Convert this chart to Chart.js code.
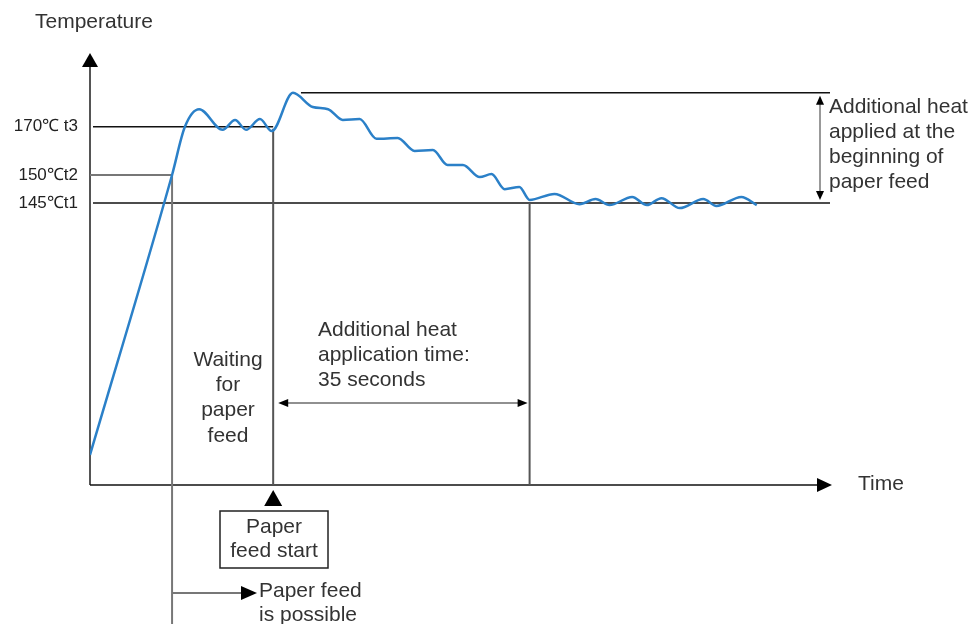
<!DOCTYPE html>
<html>
<head>
<meta charset="utf-8">
<title>Temperature vs Time</title>
<script src="https://cdn.jsdelivr.net/npm/chart.js@4.4.1/dist/chart.umd.min.js"></script>
<style>
  html, body { margin: 0; padding: 0; background: #ffffff; }
</style>
</head>
<body>
<canvas id="heatChart" width="973" height="624"></canvas>
<script>
// time in seconds, temperature as a schematic level (0 = time axis, 100 = top of axis)
const timeSec = [0, 11.2, 12.95, 14.9, 18.1, 19.8, 21.3, 23.2, 24.8, 27.7, 30.4, 32.5, 34.5, 36.8,
  39.1, 42.0, 44.3, 46.8, 48.8, 50.9, 53.2, 54.8, 56.6, 58.6, 60.0, 63.4, 66.8, 69.0, 70.9,
  74.0, 76.0, 78.0, 80.5, 83.7, 85.5, 88.9, 91.0];
const tempLevel = [7.0, 72.1, 83.3, 87.4, 82.6, 84.9, 82.6, 85.1, 82.3, 91.2, 87.9, 87.4, 84.9, 85.1,
  80.5, 80.7, 77.7, 77.9, 74.4, 74.4, 71.6, 72.3, 68.8, 69.3, 66.3, 67.7, 65.3, 66.5, 65.1,
  67.0, 65.1, 66.7, 64.4, 66.5, 64.9, 67.0, 65.1];

const tickLevels = [65.6, 72.1, 83.3];
const tickLabels = ["145℃t1", "150℃t2", "170℃ t3"];
const peakLevel = 91.2;
const peakSec = 27.7;
const feedPossibleSec = 11.2;
const feedStartSec = 25;
const heatEndSec = 60;

const FONT = '"Liberation Sans", Arial, sans-serif';
const TEXT = "#333333";

function arrowHead(ctx, x, y, dir, len, half) {
  ctx.beginPath();
  ctx.moveTo(x, y);
  if (dir === "up") { ctx.lineTo(x - half, y + len); ctx.lineTo(x + half, y + len); }
  if (dir === "down") { ctx.lineTo(x - half, y - len); ctx.lineTo(x + half, y - len); }
  if (dir === "left") { ctx.lineTo(x + len, y - half); ctx.lineTo(x + len, y + half); }
  if (dir === "right") { ctx.lineTo(x - len, y - half); ctx.lineTo(x - len, y + half); }
  ctx.closePath();
  ctx.fill();
}

function line(ctx, x1, y1, x2, y2, color, width) {
  ctx.strokeStyle = color;
  ctx.lineWidth = width;
  ctx.beginPath();
  ctx.moveTo(x1, y1);
  ctx.lineTo(x2, y2);
  ctx.stroke();
}

function textLines(ctx, lines, x, y0, step, align, size) {
  ctx.font = `${size}px ${FONT}`;
  ctx.fillStyle = TEXT;
  ctx.textAlign = align;
  ctx.textBaseline = "middle";
  lines.forEach((t, i) => ctx.fillText(t, x, y0 + i * step));
}

const diagramPlugin = {
  id: "diagram",
  beforeDatasetsDraw(chart) {
    const ctx = chart.ctx;
    const xs = chart.scales.x;
    const ys = chart.scales.y;
    const x0 = xs.getPixelForValue(0);
    const y0 = ys.getPixelForValue(0);
    const yT1 = ys.getPixelForValue(tickLevels[0]);
    const yT2 = ys.getPixelForValue(tickLevels[1]);
    const yT3 = ys.getPixelForValue(tickLevels[2]);
    const yPk = ys.getPixelForValue(peakLevel);
    const xT2 = xs.getPixelForValue(feedPossibleSec);
    const xFS = xs.getPixelForValue(feedStartSec);
    const xHE = xs.getPixelForValue(heatEndSec);
    const xPk = xs.getPixelForValue(peakSec);
    const right = chart.chartArea.right;

    ctx.save();
    ctx.fillStyle = "#000";

    // axes
    line(ctx, x0, y0, x0, 64, "#555", 2);
    arrowHead(ctx, x0, 53, "up", 14, 8);
    line(ctx, x0, y0, right - 12, y0, "#111", 1.5);
    ctx.fillStyle = "#000";
    arrowHead(ctx, right + 2, y0, "right", 15, 7);

    // temperature reference lines
    line(ctx, x0 + 3, yT3, xFS, yT3, "#111", 1.5);
    line(ctx, x0, yT2, xT2, yT2, "#777", 2);
    line(ctx, x0 + 3, yT1, right, yT1, "#111", 1.5);
    line(ctx, xPk + 8, yPk, right, yPk, "#111", 1.5);

    // vertical markers
    line(ctx, xFS, yT3 + 2, xFS, y0, "#555", 2);
    line(ctx, xHE, yT1, xHE, y0, "#555", 2);
    line(ctx, xT2, yT2, xT2, 624, "#777", 2);

    // paper feed possible arrow
    line(ctx, xT2, 593, 243, 593, "#777", 2);
    ctx.fillStyle = "#000";
    arrowHead(ctx, 257, 593, "right", 16, 7);

    // paper feed start triangle and box
    arrowHead(ctx, xFS, 490, "up", 16, 9);
    ctx.strokeStyle = "#222";
    ctx.lineWidth = 1.5;
    ctx.strokeRect(220, 511, 108, 57);

    // heat application time double arrow
    line(ctx, xFS + 8, 403, xHE - 8, 403, "#222", 1.2);
    ctx.fillStyle = "#000";
    arrowHead(ctx, xFS + 5, 403, "left", 10, 4);
    arrowHead(ctx, xHE - 2, 403, "right", 10, 4);

    // additional heat vertical double arrow
    line(ctx, 820, yPk + 8, 820, yT1 - 8, "#777", 1.5);
    ctx.fillStyle = "#000";
    arrowHead(ctx, 820, yPk + 3, "up", 9, 4);
    arrowHead(ctx, 820, yT1 - 3, "down", 9, 4);

    // texts
    textLines(ctx, ["Temperature"], 35, 22, 0, "left", 21);
    textLines(ctx, ["Time"], 858, 484, 0, "left", 21);
    textLines(ctx, ["Additional heat", "applied at the", "beginning of", "paper feed"], 829, 107, 25, "left", 21);
    textLines(ctx, ["Waiting", "for", "paper", "feed"], 228, 360, 25.3, "center", 21);
    textLines(ctx, ["Additional heat", "application time:", "35 seconds"], 318, 330, 25.3, "left", 21);
    textLines(ctx, ["Paper", "feed start"], 274, 527, 24.5, "center", 21);
    textLines(ctx, ["Paper feed", "is possible"], 259, 591, 24, "left", 21);

    ctx.restore();
  }
};

new Chart(document.getElementById("heatChart"), {
  type: "line",
  data: {
    datasets: [{
      label: "Temperature",
      data: timeSec.map((t, i) => ({ x: t, y: tempLevel[i] })),
      borderColor: "#2b80c8",
      borderWidth: 2.5,
      pointRadius: 0,
      cubicInterpolationMode: "monotone",
      fill: false
    }]
  },
  options: {
    responsive: false,
    animation: false,
    layout: { padding: { left: 0, top: 55, right: 143, bottom: 139 } },
    plugins: {
      legend: { display: false },
      tooltip: { enabled: false }
    },
    scales: {
      x: {
        type: "linear",
        min: 0,
        max: 101,
        display: false
      },
      y: {
        type: "linear",
        min: 0,
        max: 100,
        afterFit(scale) { scale.width = 90; },
        afterBuildTicks(scale) { scale.ticks = tickLevels.map((v) => ({ value: v })); },
        grid: { display: false, drawTicks: false },
        border: { display: false },
        ticks: {
          padding: 12,
          color: "#222",
          font: { family: FONT, size: 17 },
          callback: (value) => tickLabels[tickLevels.indexOf(value)]
        }
      }
    }
  },
  plugins: [diagramPlugin]
});
</script>
</body>
</html>
